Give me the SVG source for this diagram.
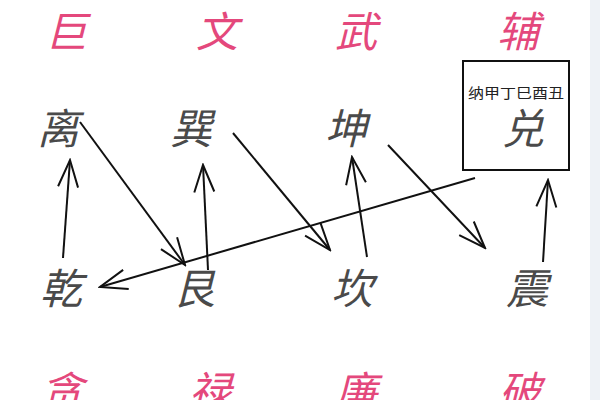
<svg xmlns="http://www.w3.org/2000/svg" width="600" height="400" viewBox="0 0 600 400">
<defs>
<style>
.star{font-family:"Noto Sans CJK SC","Noto Sans CJK TC",sans-serif;font-size:42px;font-style:italic;fill:#e4487c;text-anchor:middle}
.gua{font-family:"Noto Sans CJK SC","Noto Sans CJK TC",sans-serif;font-size:42px;font-style:italic;fill:#4a4a4a;text-anchor:middle}
.small{font-family:"Noto Sans CJK SC","Noto Sans CJK TC",sans-serif;font-size:14px;fill:#222;text-anchor:middle}
.conn line{stroke:#111;stroke-width:2;fill:none;marker-end:url(#arr)}
</style>
<marker id="arr" viewBox="-30 -12 32 24" refX="0" refY="0" markerWidth="32" markerHeight="24" markerUnits="userSpaceOnUse" orient="auto">
<path d="M-27,-10 L0,0 L-27,10" fill="none" stroke="#111" stroke-width="2"/>
</marker>
</defs>
<rect x="0" y="0" width="600" height="400" fill="#ffffff"/>
<rect x="590" y="0" width="10" height="400" fill="#eef2f6"/>
<g id="stars-top">
<text class="star" x="66" y="47">巨</text>
<text class="star" x="217" y="47">文</text>
<text class="star" x="356" y="47">武</text>
<text class="star" x="518" y="47">辅</text>
</g>
<g id="stars-bottom">
<text class="star" x="62" y="407">贪</text>
<text class="star" x="210" y="407">禄</text>
<text class="star" x="356" y="407">廉</text>
<text class="star" x="520" y="407">破</text>
</g>
<g id="li"><text class="gua" x="58" y="144">离</text></g>
<g id="xun"><text class="gua" x="191" y="144">巽</text></g>
<g id="kun"><text class="gua" x="346" y="144">坤</text></g>
<g id="dui">
<rect x="463" y="61" width="106" height="109" fill="none" stroke="#111" stroke-width="2"/>
<text class="small" x="516" y="98" textLength="96" lengthAdjust="spacingAndGlyphs">纳甲丁巳酉丑</text>
<text class="gua" x="523" y="144">兑</text>
</g>
<g id="qian"><text class="gua" x="61" y="304">乾</text></g>
<g id="gen"><text class="gua" x="194" y="304">艮</text></g>
<g id="kan"><text class="gua" x="352" y="304">坎</text></g>
<g id="zhen"><text class="gua" x="527" y="304">震</text></g>
<g id="connectors" class="conn">
<line x1="63" y1="258" x2="70" y2="160"/>
<line x1="80" y1="122" x2="185" y2="265"/>
<line x1="208" y1="270" x2="203" y2="165"/>
<line x1="475" y1="178" x2="100" y2="287"/>
<line x1="233" y1="133" x2="330" y2="250"/>
<line x1="367" y1="257" x2="352" y2="157"/>
<line x1="388" y1="145" x2="485" y2="248"/>
<line x1="543" y1="262" x2="548" y2="180"/>
</g>
</svg>
